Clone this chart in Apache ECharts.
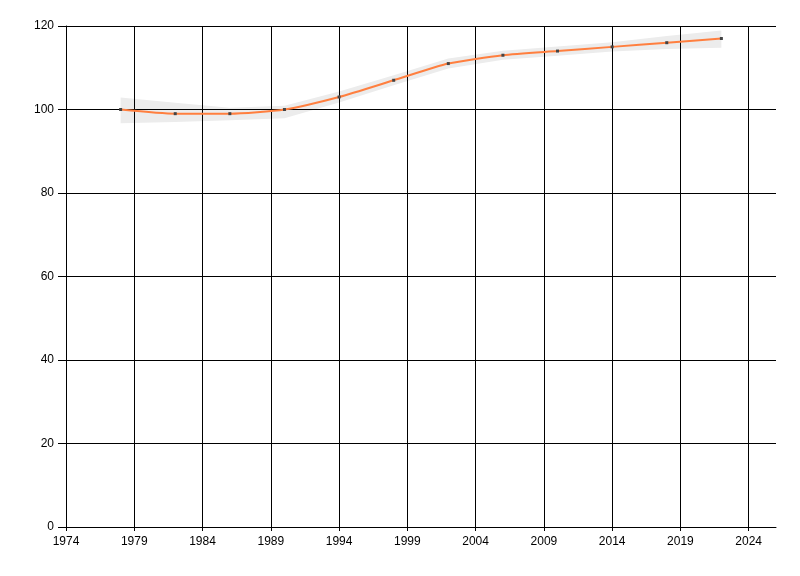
<!DOCTYPE html>
<html>
<head>
<meta charset="utf-8">
<script src="https://cdn.jsdelivr.net/npm/echarts@6/dist/echarts.min.js"></script>
<style>
  html, body { margin: 0; padding: 0; background: #fff; }
  #chart { width: 800px; height: 576px; }
</style>
</head>
<body>
<div id="chart"></div>
<script>
// x axis starts at 1974, ticks every 5 years
var startYear = 1974;
var endYear = 2026;

var years = [1978, 1982, 1986, 1990, 1994, 1998, 2002, 2006, 2010, 2014, 2018, 2022];
var values = [100, 99, 99, 100, 103, 107, 111, 113, 114, 115, 116, 117];
// confidence band (grey)
var lower = [96.7, 97.0, 97.4, 97.9, 101.7, 105.8, 109.8, 111.9, 112.9, 113.9, 114.5, 114.8];
var upper = [102.9, 101.6, 100.4, 100.9, 104.3, 108.2, 112.2, 114.1, 115.1, 116.1, 117.6, 118.9];

// offset years so ticks land on 1974, 1979, ...
function pts(arr) {
  return years.map(function (y, i) { return [y - startYear, arr[i]]; });
}

var chart = echarts.init(document.getElementById('chart'));

var axisFont = { color: '#000', fontSize: 12, fontFamily: 'Liberation Sans, Arial, sans-serif' };

// band polygon: upper edge left->right, then lower edge right->left
function renderBand(params, api) {
  var points = [];
  for (var i = 0; i < years.length; i++) {
    points.push(api.coord([years[i] - startYear, upper[i]]));
  }
  for (var j = years.length - 1; j >= 0; j--) {
    points.push(api.coord([years[j] - startYear, lower[j]]));
  }
  return {
    type: 'polygon',
    shape: { points: points },
    style: { fill: '#ececec', stroke: null }
  };
}

var option = {
  animation: false,
  grid: { left: 66, right: 24, top: 26, bottom: 49 },
  xAxis: {
    type: 'value',
    min: 0,
    max: endYear - startYear,
    interval: 5,
    axisLine: { show: true, lineStyle: { color: '#000', width: 1 } },
    axisTick: { show: true, length: 4, lineStyle: { color: '#000' } },
    axisLabel: Object.assign({
      margin: 9,
      showMaxLabel: false,
      formatter: function (v) { return v + startYear; }
    }, axisFont),
    splitLine: { show: true, showMaxLine: false, lineStyle: { color: '#000', width: 1 } }
  },
  yAxis: {
    type: 'value',
    min: 0,
    max: 120,
    interval: 20,
    axisLine: { show: true, lineStyle: { color: '#000', width: 1 } },
    axisTick: { show: true, length: 8, lineStyle: { color: '#000' } },
    axisLabel: Object.assign({ margin: 12 }, axisFont),
    splitLine: { show: true, lineStyle: { color: '#000', width: 1 } }
  },
  series: [
    {
      name: 'band',
      type: 'custom',
      renderItem: renderBand,
      data: [[years[0] - startYear, values[0]]],
      silent: true,
      z: -1
    },
    {
      name: 'value',
      type: 'line',
      data: pts(values),
      smooth: 0.2,
      symbol: 'rect',
      symbolSize: 3,
      itemStyle: { color: '#444' },
      lineStyle: { color: '#ff7f3f', width: 2 },
      z: 5
    }
  ]
};

chart.setOption(option);
</script>
</body>
</html>
